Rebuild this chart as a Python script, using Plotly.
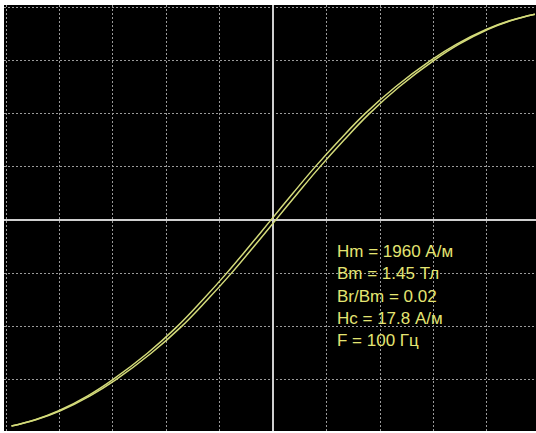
import plotly.graph_objects as go

# Magnetic flux density B (T) sample levels along the descending branch
B_desc = [1.45, 1.406, 1.3425, 1.2375, 1.125, 0.9375, 0.75, 0.5625, 0.375, 0.1875, 0.0,
          -0.1875, -0.375, -0.5625, -0.75, -0.9375, -1.125, -1.2375, -1.3425, -1.406, -1.45]
# Field strength H (A/m) on the descending branch
H_desc = [1960, 1777, 1594, 1371, 1180, 914, 688, 495, 314, 146, -18,
          -182, -350, -529, -720, -942, -1204, -1389, -1606, -1783, -1960]
# Ascending branch
B_asc = [-1.45, -1.406, -1.3425, -1.2375, -1.125, -0.9375, -0.75, -0.5625, -0.375, -0.1875, 0.0,
         0.1875, 0.375, 0.5625, 0.75, 0.9375, 1.125, 1.2375, 1.3425, 1.406, 1.45]
H_asc = [-1960, -1777, -1594, -1371, -1180, -914, -688, -495, -314, -146, 18,
         182, 350, 529, 720, 942, 1204, 1389, 1606, 1783, 1960]

info_lines = ["Hm = 1960 А/м", "Bm = 1.45 Тл", "Br/Bm = 0.02", "Hc = 17.8 А/м", "F = 100 Гц"]

H_div = 400      # A/m per division
B_div = 0.375    # T per division

line_color = "#d4db7a"

fig = go.Figure()
for hx, by in ((H_desc, B_desc), (H_asc, B_asc)):
    fig.add_trace(go.Scatter(x=hx, y=by, mode="lines",
                             line=dict(color=line_color, width=1.5, shape="spline", smoothing=1.2),
                             hoverinfo="skip", showlegend=False))

ann_y = [0.422, 0.369, 0.316, 0.263, 0.212]
for txt, yy in zip(info_lines, ann_y):
    fig.add_annotation(text=txt, xref="paper", yref="paper", x=0.622, y=yy,
                       xanchor="left", yanchor="middle", showarrow=False,
                       font=dict(family="Liberation Sans Narrow, Arial Narrow, Arial", size=17, color="#e4e572"))

axis_common = dict(showticklabels=False, ticks="", showline=False,
                   showgrid=True, gridcolor="#9a9a9a", gridwidth=1, griddash="2px,2px",
                   zeroline=True, zerolinecolor="#cfcfcf", zerolinewidth=1.6,
                   fixedrange=True)

fig.update_layout(
    width=536, height=433,
    margin=dict(l=4, r=0, t=5, b=2),
    paper_bgcolor="white", plot_bgcolor="black",
    xaxis=dict(range=[-5.04 * H_div, 4.92 * H_div], tick0=0, dtick=H_div, **axis_common),
    yaxis=dict(range=[-3.96 * B_div, 4.04 * B_div], tick0=0, dtick=B_div, **axis_common),
)
fig.write_html("out.html", config={"displayModeBar": False},
               post_script="document.body.style.margin='0px';")
